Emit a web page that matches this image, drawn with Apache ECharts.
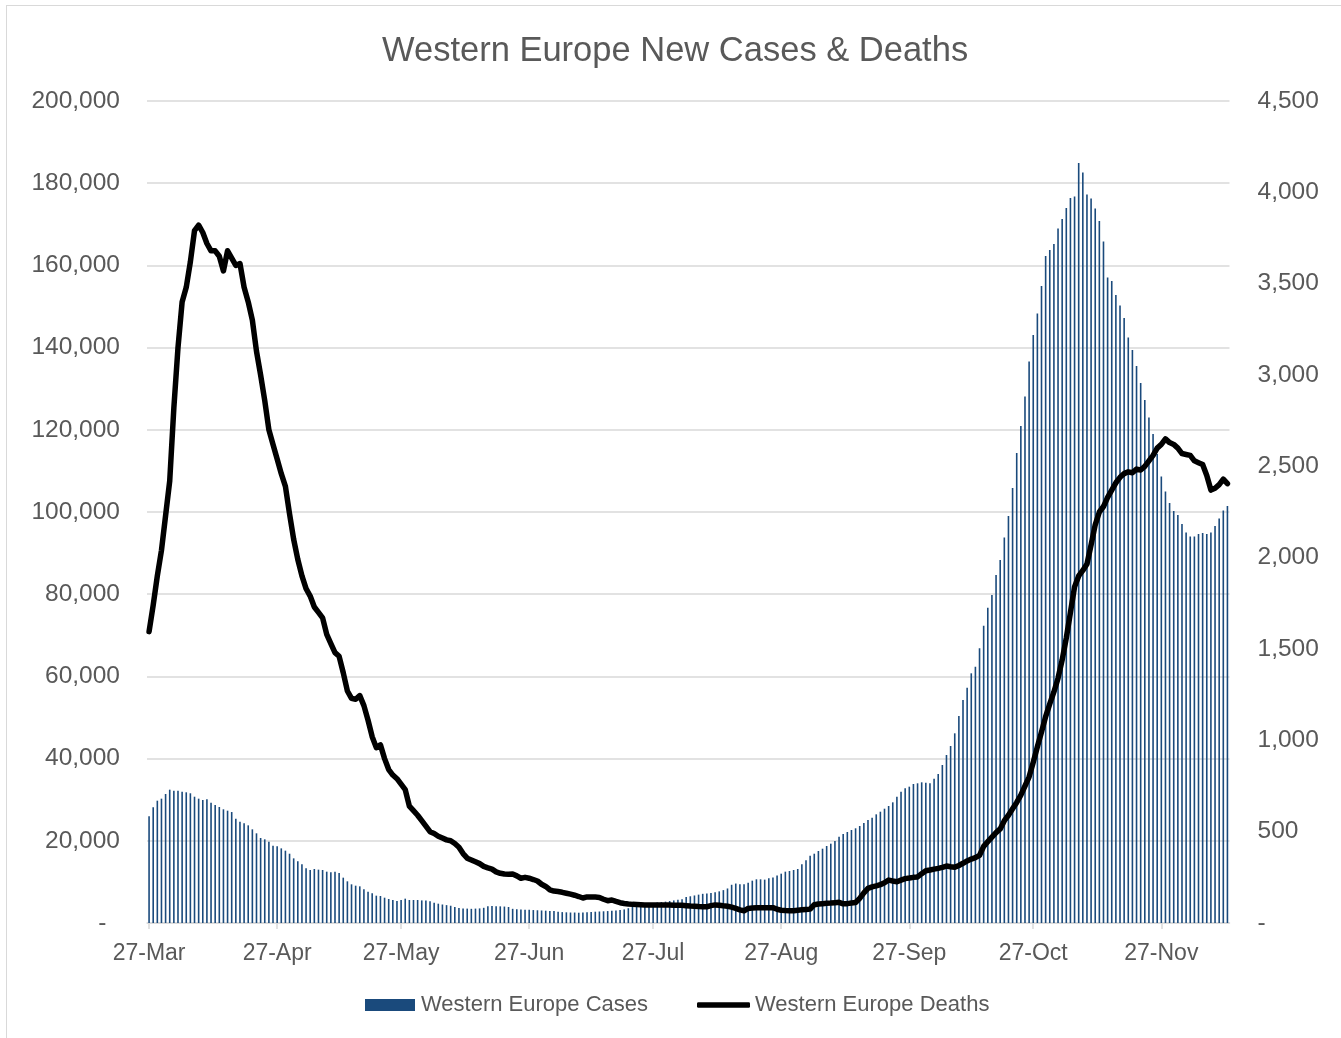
<!DOCTYPE html>
<html>
<head>
<meta charset="utf-8">
<script src="https://cdn.jsdelivr.net/npm/echarts@6/dist/echarts.min.js"></script>
<style>
html,body{margin:0;padding:0;background:#fff;}
#chart{position:absolute;left:0;top:0;width:1341px;height:1038px;}
#frame{position:absolute;left:6px;top:5px;width:1400px;height:1100px;border-left:1px solid #d9d9d9;border-top:1px solid #d9d9d9;pointer-events:none;}
</style>
</head>
<body>
<div id="chart"></div>
<div id="frame"></div>
<script>
// ---- data ----
const startDate = '2020-03-27';
const dayCount = 262;
const monthNames = ['Jan','Feb','Mar','Apr','May','Jun','Jul','Aug','Sep','Oct','Nov','Dec'];

const cases = [
  26000, 28150, 29760, 30250, 31390, 32440, 32200, 32200, 31950, 31800,
  31560, 30730, 30250, 29930, 30090, 29270, 28710, 28220, 27660, 27330,
  27000, 25380, 24650, 24250, 23760, 22790, 21820, 20680, 20360, 19790,
  18810, 18650, 18160, 17600, 16860, 15730, 15000, 14280, 13310, 12900,
  13140, 12980, 12900, 12490, 12330, 12490, 12170, 11030, 10140, 9410,
  9080, 8920, 8190, 7620, 7220, 6650, 6570, 6160, 5840, 5600,
  5350, 5600, 5920, 5600, 5600, 5600, 5500, 5450, 5300, 4950,
  4700, 4500, 4350, 4200, 3900, 3650, 3550, 3500, 3450, 3500,
  3550, 3700, 4050, 4150, 4100, 4050, 4000, 3900, 3450, 3350,
  3300, 3250, 3200, 3150, 3100, 3050, 3000, 2950, 2900, 2750,
  2650, 2600, 2550, 2550, 2500, 2550, 2600, 2700, 2750, 2800,
  2850, 2900, 3000, 3050, 3150, 3300, 3600, 3900, 4150, 4300,
  4450, 4600, 4800, 5000, 5100, 5200, 5350, 5500, 5650, 5800,
  6300, 6500, 6700, 6900, 7100, 7200, 7300, 7500, 7700, 8000,
  8400, 9300, 9600, 9450, 9400, 9800, 10300, 10630, 10630, 10550,
  10870, 11050, 11580, 12000, 12490, 12650, 12900, 13140, 14280, 15250,
  16380, 16860, 17520, 18080, 18730, 19300, 19950, 21000, 21650, 22140,
  22630, 23040, 23600, 24330, 25060, 25620, 26440, 27080, 27810, 28470,
  29360, 30730, 31950, 32770, 33170, 33820, 33990, 34230, 34150, 33990,
  35120, 36250, 38440, 40870, 43060, 46150, 50360, 54260, 57250, 60750,
  62360, 66830, 72330, 76710, 79800, 84670, 88320, 93800, 99020, 105830,
  114350, 120920, 128100, 136610, 143060, 148290, 154980, 162280, 163740, 165200,
  168970, 171280, 173960, 176390, 176760, 184910, 182600, 177250, 176280, 173840,
  170800, 165810, 157050, 156200, 152790, 150240, 147200, 142460, 139400, 135520,
  131380, 127250, 122990, 118970, 114110, 108630, 104980, 102190, 100240, 99270,
  97080, 95010, 94040, 94040, 94650, 94890, 94650, 95010, 96590, 98420,
  100360, 101450
];

const deaths = [
  1595, 1740, 1900, 2040, 2230, 2420, 2820, 3150, 3400, 3480,
  3620, 3790, 3820, 3780, 3720, 3680, 3680, 3650, 3570, 3680,
  3640, 3600, 3610, 3480, 3400, 3300, 3130, 3000, 2860, 2700,
  2620, 2540, 2460, 2390, 2240, 2100, 1990, 1900, 1830, 1790,
  1730, 1700, 1670, 1580, 1530, 1480, 1460, 1370, 1270, 1230,
  1225, 1245, 1190, 1110, 1020, 960, 975, 900, 840, 810,
  790, 760, 730, 640, 615, 590, 560, 530, 500, 490,
  475, 465, 455, 450, 435, 415, 380, 355, 345, 335,
  325, 310, 302, 295, 280, 272, 268, 267, 268, 258,
  245, 250, 245, 238, 230, 212, 200, 182, 175, 172,
  168, 163, 158, 152, 145, 137, 143, 143, 142, 140,
  130, 122, 126, 118, 111, 107, 104, 102, 101, 100,
  99, 99, 99, 99, 98, 99, 98, 97, 97, 97,
  95, 93, 92, 90, 89, 89, 95, 99, 97, 94,
  92, 87, 80, 72, 67, 80, 82, 83, 84, 84,
  84, 84, 75, 70, 68, 67, 67, 70, 72, 74,
  76, 100, 104, 106, 108, 109, 111, 113, 105, 106,
  109, 112, 135, 165, 190, 198, 203, 210, 220, 235,
  230, 226, 235, 243, 246, 250, 252, 270, 286, 290,
  295, 299, 305, 312, 308, 305, 315, 327, 340, 350,
  358, 370, 420, 445, 470, 495, 515, 560, 590, 625,
  660, 700, 750, 800, 880, 965, 1045, 1130, 1200, 1265,
  1340, 1440, 1560, 1700, 1840, 1900, 1930, 1965, 2070, 2180,
  2250, 2280, 2330, 2370, 2410, 2440, 2460, 2470, 2465, 2485,
  2480, 2500, 2530, 2560, 2600, 2620, 2650, 2630, 2620, 2600,
  2570, 2565, 2560, 2530, 2520, 2510, 2450, 2370, 2380, 2400,
  2430, 2405
];

const leftTicks = {min: 0, max: 200000, interval: 20000};
const rightTicks = {min: 0, max: 4500, interval: 500};

// category labels
const categories = [];
(function(){
  const d0 = new Date(startDate + 'T00:00:00Z');
  for (let i = 0; i < dayCount; i++) {
    const d = new Date(d0.getTime() + i * 86400000);
    categories.push(d.getUTCDate() + '-' + monthNames[d.getUTCMonth()]);
  }
})();

const FONT = '"Liberation Sans", Arial, sans-serif';
const TXT = '#595959';
const GRID = '#d9d9d9';
function fmt(v){
  if (v === 0) return '-  ';
  return v.toString().replace(/\B(?=(\d{3})+(?!\d))/g, ',');
}
function fmtR(v){
  if (v === 0) return '-';
  return v.toString().replace(/\B(?=(\d{3})+(?!\d))/g, ',');
}
const show27 = function(idx, val){ return val.indexOf('27-') === 0; };

const chart = echarts.init(document.getElementById('chart'), null, {renderer: 'canvas'});
chart.setOption({
  animation: false,
  backgroundColor: '#ffffff',
  textStyle: {fontFamily: FONT},
  title: {
    text: 'Western Europe New Cases & Deaths',
    left: 377,
    top: 25,
    textStyle: {fontFamily: FONT, fontSize: 34.5, fontWeight: 'normal', color: TXT, lineHeight: 42}
  },
  legend: [
    {
      data: [{name: 'Western Europe Cases', icon: 'rect'}],
      left: 360, top: 989,
      itemWidth: 50, itemHeight: 12, itemGap: 5,
      textStyle: {fontFamily: FONT, fontSize: 22, color: TXT, padding: [0,0,0,1]}
    },
    {
      data: [{name: 'Western Europe Deaths', icon: 'roundRect'}],
      left: 692, top: 989,
      itemWidth: 53, itemHeight: 5.5, itemGap: 5,
      textStyle: {fontFamily: FONT, fontSize: 22, color: TXT, padding: [0,0,0,0]}
    }
  ],
  grid: {left: 147, right: 111.5, top: 101, bottom: 115, containLabel: false},
  xAxis: {
    type: 'category',
    data: categories,
    boundaryGap: true,
    axisLine: {show: true, lineStyle: {color: GRID, width: 1.5}},
    axisTick: {show: true, interval: show27, alignWithLabel: true, length: 6, lineStyle: {color: GRID, width: 1.5}},
    axisLabel: {interval: show27, margin: 19, fontFamily: FONT, fontSize: 23, color: TXT},
    splitLine: {show: false}
  },
  yAxis: [
    {
      type: 'value',
      min: leftTicks.min, max: leftTicks.max, interval: leftTicks.interval,
      axisLine: {show: false}, axisTick: {show: false},
      axisLabel: {formatter: fmt, margin: 27, fontFamily: FONT, fontSize: 24.5, color: TXT, lineHeight: 30, padding: [4,0,0,0]},
      splitLine: {show: true, lineStyle: {color: GRID, width: 1.5}}
    },
    {
      type: 'value',
      min: rightTicks.min, max: rightTicks.max, interval: rightTicks.interval,
      axisLine: {show: false}, axisTick: {show: false},
      axisLabel: {formatter: fmtR, margin: 28, fontFamily: FONT, fontSize: 24.5, color: TXT, lineHeight: 30, padding: [4,0,0,0]},
      splitLine: {show: false}
    }
  ],
  series: [
    {
      name: 'Western Europe Cases',
      type: 'bar',
      yAxisIndex: 0,
      data: cases,
      barWidth: 1.6,
      itemStyle: {color: '#1a4a7c'},
      z: 1
    },
    {
      name: 'Western Europe Deaths',
      type: 'line',
      yAxisIndex: 1,
      data: deaths,
      symbol: 'none',
      showSymbol: false,
      itemStyle: {color: '#000000'},
      lineStyle: {color: '#000000', width: 5.5, cap: 'round', join: 'round'},
      z: 3
    }
  ]
});
</script>
</body>
</html>
